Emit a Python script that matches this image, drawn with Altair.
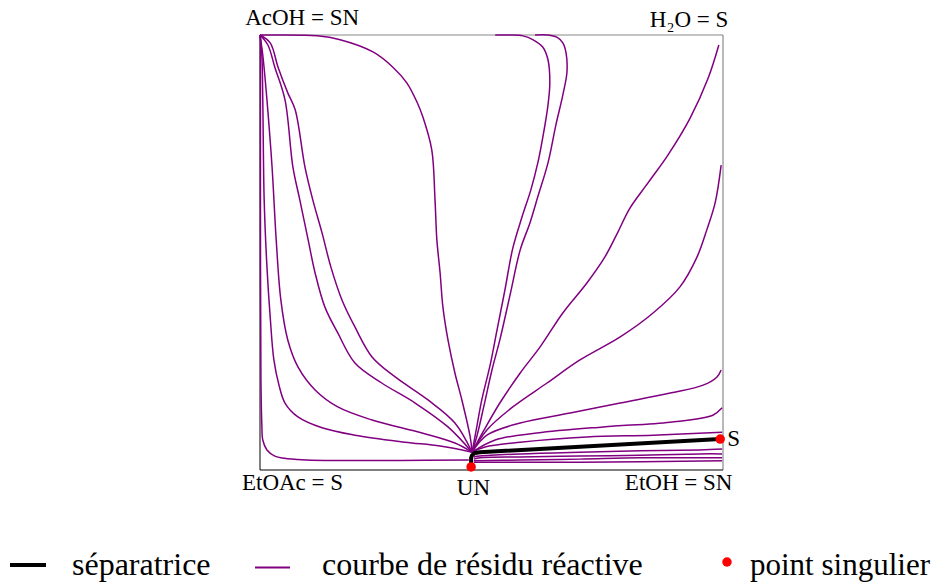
import altair as alt
import pandas as pd

# ---------------- data (mole-fraction coordinates, x: EtOAc->EtOH, y: ->AcOH/H2O) -------------
a_x = [0.001, 0.001, 0.002, 0.004, 0.006, 0.015, 0.032, 0.082, 0.302, 0.451]
a_y = [1.000, 0.621, 0.207, 0.103, 0.069, 0.046, 0.032, 0.024, 0.022, 0.023]

b_x = [0.000, 0.004, 0.006, 0.009, 0.015, 0.022, 0.030, 0.041, 0.054, 0.082, 0.134, 0.205, 0.313, 0.389, 0.458]
b_y = [1.000, 0.954, 0.851, 0.621, 0.467, 0.352, 0.253, 0.195, 0.154, 0.122, 0.097, 0.080, 0.064, 0.055, 0.041]

c_x = [0.000, 0.006, 0.015, 0.026, 0.035, 0.045, 0.060, 0.082, 0.119, 0.168, 0.242, 0.350, 0.421, 0.458]
c_y = [1.000, 0.954, 0.851, 0.697, 0.529, 0.391, 0.299, 0.237, 0.184, 0.145, 0.115, 0.085, 0.062, 0.041]

d_x = [0.000, 0.017, 0.032, 0.054, 0.071, 0.086, 0.104, 0.119, 0.140, 0.168, 0.205, 0.263, 0.335, 0.406, 0.458]
d_y = [1.000, 0.977, 0.926, 0.851, 0.697, 0.621, 0.529, 0.453, 0.375, 0.315, 0.246, 0.200, 0.154, 0.099, 0.041]

e_x = [0.000, 0.022, 0.039, 0.060, 0.076, 0.097, 0.114, 0.134, 0.153, 0.177, 0.205, 0.242, 0.292, 0.363, 0.421, 0.458]
e_y = [1.000, 0.982, 0.926, 0.867, 0.828, 0.697, 0.621, 0.545, 0.467, 0.391, 0.329, 0.260, 0.214, 0.161, 0.108, 0.041]

f_x = [0.000, 0.037, 0.123, 0.173, 0.244, 0.287, 0.317, 0.339, 0.352, 0.371, 0.378, 0.382, 0.389, 0.395, 0.406, 0.421, 0.436, 0.454, 0.458]
f_y = [1.000, 1.000, 0.998, 0.989, 0.961, 0.926, 0.890, 0.846, 0.811, 0.736, 0.621, 0.529, 0.453, 0.375, 0.299, 0.223, 0.161, 0.076, 0.041]

g_x = [0.508, 0.540, 0.568, 0.590, 0.611, 0.622, 0.626, 0.622, 0.611, 0.600, 0.585, 0.566, 0.546, 0.529, 0.512, 0.497, 0.479, 0.467, 0.458]
g_y = [1.000, 1.000, 0.998, 0.989, 0.972, 0.943, 0.890, 0.839, 0.766, 0.706, 0.644, 0.582, 0.510, 0.414, 0.322, 0.241, 0.161, 0.092, 0.041]

h_x = [0.594, 0.622, 0.641, 0.654, 0.661, 0.663, 0.654, 0.639, 0.622, 0.600, 0.583, 0.562, 0.540, 0.518, 0.501, 0.484, 0.469, 0.458]
h_y = [1.000, 1.000, 0.995, 0.982, 0.959, 0.915, 0.862, 0.793, 0.706, 0.628, 0.568, 0.506, 0.402, 0.299, 0.230, 0.149, 0.080, 0.041]

i_x = [0.991, 0.968, 0.929, 0.881, 0.838, 0.799, 0.773, 0.745, 0.706, 0.654, 0.605, 0.562, 0.518, 0.484, 0.458]
i_y = [0.977, 0.901, 0.809, 0.724, 0.660, 0.602, 0.547, 0.490, 0.430, 0.361, 0.283, 0.223, 0.154, 0.092, 0.041]

j_x = [0.996, 0.983, 0.965, 0.944, 0.907, 0.849, 0.778, 0.691, 0.620, 0.546, 0.490, 0.458]
j_y = [0.701, 0.614, 0.552, 0.490, 0.421, 0.361, 0.306, 0.253, 0.200, 0.145, 0.092, 0.041]

k_x = [0.996, 0.987, 0.957, 0.886, 0.778, 0.670, 0.562, 0.490, 0.458]
k_y = [0.230, 0.214, 0.195, 0.177, 0.154, 0.131, 0.108, 0.080, 0.041]

l_x = [0.998, 0.978, 0.886, 0.741, 0.598, 0.508, 0.458]
l_y = [0.143, 0.126, 0.110, 0.099, 0.085, 0.069, 0.041]

m_x = [0.998, 0.849, 0.706, 0.562, 0.486, 0.458]
m_y = [0.087, 0.080, 0.076, 0.064, 0.053, 0.041]

n_x = [0.998, 0.950, 0.821, 0.691, 0.562, 0.475, 0.462]
n_y = [0.048, 0.046, 0.044, 0.041, 0.037, 0.032, 0.030]

o_x = [0.998, 0.950, 0.821, 0.691, 0.562, 0.475, 0.462]
o_y = [0.037, 0.037, 0.034, 0.032, 0.030, 0.028, 0.025]

p_x = [0.998, 0.821, 0.691, 0.562, 0.462]
p_y = [0.028, 0.028, 0.025, 0.023, 0.021]

q_x = [0.998, 0.691, 0.462]
q_y = [0.021, 0.018, 0.018]

sep_x = [0.456, 0.456, 0.458, 0.464, 0.475, 0.994]
sep_y = [0.007, 0.028, 0.034, 0.039, 0.041, 0.071]

pt_names = ["UN", "S"]
pt_x = [0.456, 0.994]
pt_y = [0.007, 0.071]

label_text = ["AcOH = SN", "H\u2082O = S", "EtOAc = S", "UN", "EtOH = SN", "S"]
label_x = [-0.032, 0.842, -0.039, 0.425, 0.788, 1.009]
label_y = [1.023, 1.018, -0.046, -0.057, -0.046, 0.055]

legend_labels = ["séparatrice", "courbe de résidu réactive", "point singulier"]

# ---------------- tables ----------------
curves = {"a": (a_x, a_y), "b": (b_x, b_y), "c": (c_x, c_y), "d": (d_x, d_y),
          "e": (e_x, e_y), "f": (f_x, f_y), "g": (g_x, g_y), "h": (h_x, h_y),
          "i": (i_x, i_y), "j": (j_x, j_y), "k": (k_x, k_y), "l": (l_x, l_y),
          "m": (m_x, m_y), "n": (n_x, n_y), "o": (o_x, o_y), "p": (p_x, p_y),
          "q": (q_x, q_y)}
rows = []
for name, (xs_, ys_) in curves.items():
    for idx, (xv, yv) in enumerate(zip(xs_, ys_)):
        rows.append({"curve": name, "i": idx, "x": xv, "y": yv})
curves_df = pd.DataFrame(rows)
sep_df = pd.DataFrame({"i": list(range(len(sep_x))), "x": sep_x, "y": sep_y})
pts_df = pd.DataFrame({"name": pt_names, "x": pt_x, "y": pt_y})
lab_df = pd.DataFrame({"label": label_text, "x": label_x, "y": label_y})

# ---------------- scales ----------------
W, H = 924, 574
X0_PX, X1_PX = 252, 715
Y0_PX, Y1_PX = 462, 27
sx = X1_PX - X0_PX
sy = Y0_PX - Y1_PX
xdom = [-X0_PX / sx, (W - X0_PX) / sx]
ydom = [-(H - Y0_PX) / sy, 1 + Y1_PX / sy]
xsc = alt.Scale(domain=xdom, nice=False, zero=False)
ysc = alt.Scale(domain=ydom, nice=False, zero=False)
X = alt.X("x:Q", scale=xsc, axis=None)
Y = alt.Y("y:Q", scale=ysc, axis=None)
X2 = alt.X2("x2:Q")
Y2 = alt.Y2("y2:Q")

FONT = "'Liberation Serif', 'Times New Roman', 'DejaVu Serif', serif"
PURPLE = "#800080"

frame_black = alt.Chart(pd.DataFrame({"x": [0, 0], "y": [0, 0], "x2": [1, 0], "y2": [0, 1]})).mark_rule(
    color="black", strokeWidth=1).encode(X, Y, X2, Y2)
frame_gray = alt.Chart(pd.DataFrame({"x": [0, 1], "y": [1, 0], "x2": [1, 1], "y2": [1, 1]})).mark_rule(
    color="#8a8a8a", strokeWidth=1.2).encode(X, Y, X2, Y2)

curves_layer = alt.Chart(curves_df).mark_line(color=PURPLE, strokeWidth=1.5,
                                              interpolate="catmull-rom").encode(
    X, Y, detail="curve:N", order="i:Q")
sep_layer = alt.Chart(sep_df).mark_line(color="black", strokeWidth=4, strokeJoin="round").encode(
    X, Y, order="i:Q")
pts_layer = alt.Chart(pts_df).mark_circle(color="red", size=90, opacity=1).encode(X, Y)
lab_layer = alt.Chart(lab_df).mark_text(font=FONT, fontSize=23, align="left",
                                       baseline="alphabetic", color="black").encode(X, Y, text="label:N")

one = pd.DataFrame({"k": [0]})
leg_black = alt.Chart(one).mark_rule(color="black", strokeWidth=4).encode(
    x=alt.value(2), x2=alt.value(38), y=alt.value(557))
leg_purple = alt.Chart(one).mark_rule(color=PURPLE, strokeWidth=2).encode(
    x=alt.value(247), x2=alt.value(282), y=alt.value(559.5))
leg_dot = alt.Chart(one).mark_circle(color="red", size=90, opacity=1).encode(
    x=alt.value(719), y=alt.value(554))
leg_t1 = alt.Chart(one).mark_text(font=FONT, fontSize=32, align="left", baseline="alphabetic").encode(
    x=alt.value(64), y=alt.value(567), text=alt.value(legend_labels[0]))
leg_t2 = alt.Chart(one).mark_text(font=FONT, fontSize=32, align="left", baseline="alphabetic").encode(
    x=alt.value(314), y=alt.value(567), text=alt.value(legend_labels[1]))
leg_t3 = alt.Chart(one).mark_text(font=FONT, fontSize=31, align="left", baseline="alphabetic").encode(
    x=alt.value(742), y=alt.value(567), text=alt.value(legend_labels[2]))

chart = alt.layer(
    frame_gray, frame_black, curves_layer, sep_layer, pts_layer, lab_layer,
    leg_black, leg_purple, leg_dot, leg_t1, leg_t2, leg_t3
).properties(width=W, height=H, padding=0, autosize="none").configure_view(stroke=None)

chart.save("out.html", embed_options={"renderer": "svg", "actions": False})
